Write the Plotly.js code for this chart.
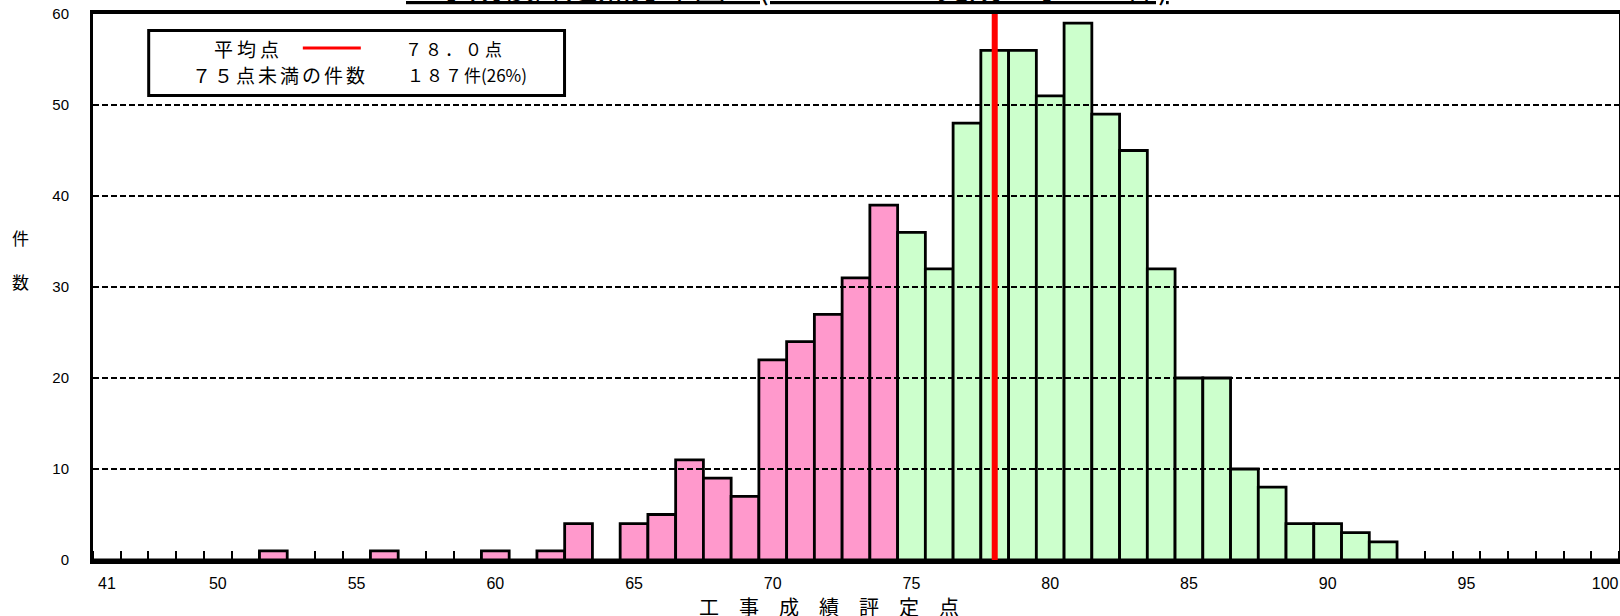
<!DOCTYPE html>
<html>
<head>
<meta charset="utf-8">
<script src="https://cdn.plot.ly/plotly-3.0.1.min.js"></script>
<style>html,body{margin:0;padding:0;background:#fff;}#chart{width:1620px;height:616px;}</style>
</head>
<body>
<div id="chart"></div>
<script>
// ---- data ----
const categories = ["41","47","48","49","50","51","52","53","54","55","56","57","58","59","60",
  "61","62","63","64","65","66","67","68","69","70","71","72","73","74","75","76","77","78","79","80",
  "81","82","83","84","85","86","87","88","89","90","91","92","93","94","95","96","97","98","99","100"];
const counts = [0,0,0,0,0,0,1,0,0,0,1,0,0,0,1,
  0,1,4,0,4,5,11,9,7,22,24,27,31,39,36,32,48,56,56,51,
  59,49,45,32,20,20,10,8,4,4,3,2,0,0,0,0,0,0,0,0];
const tickLabels = ["41","50","55","60","65","70","75","80","85","90","95","100"];
const yTicks = [0,10,20,30,40,50,60];
const meanScore = 78.0;
const threshold = 75;
const titleText = "工事成績評定点分布図　(R5.4～R6.3 完成工事 722件)";
const xTitle = "工　事　成　績　評　定　点";
const yTitle = "件<br><br>数";
const legendMeanLabel = "平均点";
const legendMeanValue = "７８．０点";
const legendBelowLabel = "７５点未満の件数";
const legendBelowNum = "１８７";
const legendBelowUnit = "件(26%)";

const PINK = "#FF99CC", GREEN = "#CCFFCC";
const JP = "'Noto Sans CJK JP', sans-serif";
const AR = "'Liberation Sans', Arial, sans-serif";

const colors = categories.map(c => Number(c) < threshold ? PINK : GREEN);
const idx = categories.map((c, i) => i);
const meanIdx = categories.indexOf(String(Math.round(meanScore))) + (meanScore - Math.round(meanScore));

const trace = {
  type: "bar",
  x: idx,
  y: counts,
  marker: {color: colors, line: {color: "#000", width: 2.8}},
  hoverinfo: "x+y",
  showlegend: false
};

const shapes = [];
// dashed grid lines drawn above bars
yTicks.filter(v => v > 0 && v < 60).forEach(v => {
  shapes.push({type: "line", xref: "paper", yref: "y", x0: 0, x1: 1, y0: v, y1: v,
    line: {color: "#000", width: 2, dash: "6px,3px"}, layer: "above"});
});
// mean line
shapes.push({type: "line", xref: "x", yref: "paper", x0: meanIdx, x1: meanIdx, y0: 0, y1: 1,
  line: {color: "#FF0000", width: 6}, layer: "above"});
// legend box
shapes.push({type: "rect", xref: "paper", yref: "paper", x0: 0.0365, x1: 0.309, y0: 0.8506, y1: 0.9698,
  line: {color: "#000", width: 3}, fillcolor: "#fff", layer: "above"});
shapes.push({type: "line", xref: "paper", yref: "paper", x0: 0.1375, x1: 0.1755, y0: 0.9377, y1: 0.9377,
  line: {color: "#FF0000", width: 3}, layer: "above"});

const annotations = [
  {xref: "paper", yref: "paper", x: 0.1022, y: 0.9377, xanchor: "center", yanchor: "middle",
   text: `<span style="letter-spacing:4px">${legendMeanLabel}</span>`, showarrow: false, font: {family: JP, size: 19, color: "#000"}},
  {xref: "paper", yref: "paper", x: 0.203, y: 0.9377, xanchor: "left", yanchor: "middle",
   text: `<span style="letter-spacing:3px">${legendMeanValue}</span>`, showarrow: false, font: {family: JP, size: 17, color: "#000"}},
  {xref: "paper", yref: "paper", x: 0.1228, y: 0.890, xanchor: "center", yanchor: "middle",
   text: `<span style="letter-spacing:3px">${legendBelowLabel}</span>`, showarrow: false, font: {family: JP, size: 19, color: "#000"}},
  {xref: "paper", yref: "paper", x: 0.2043, y: 0.890, xanchor: "left", yanchor: "middle",
   text: `<span style="letter-spacing:2px">${legendBelowNum}</span>${legendBelowUnit}`, showarrow: false, font: {family: JP, size: 17, color: "#000"}},
  {xref: "paper", yref: "paper", x: 0.4826, y: -0.0843, xanchor: "center", yanchor: "middle",
   text: xTitle, showarrow: false, font: {family: JP, size: 20, color: "#000"}},
  {xref: "paper", yref: "paper", x: -0.0472, y: 0.55, xanchor: "center", yanchor: "middle",
   text: yTitle, showarrow: false, font: {family: JP, size: 17, color: "#000"}},
  {xref: "paper", yref: "paper", x: 0.455, y: 1.0, xanchor: "center", yanchor: "bottom", yshift: 4,
   text: `<span style="text-decoration:underline">${titleText}</span>`, showarrow: false,
   font: {family: JP, size: 32, color: "#000"}}
];

const layout = {
  width: 1620, height: 616,
  margin: {l: 93, r: 1, t: 14, b: 56, pad: 0},
  paper_bgcolor: "#fff", plot_bgcolor: "#fff",
  bargap: 0,
  xaxis: {
    type: "linear",
    range: [-0.5, categories.length - 0.5],
    tickmode: "array",
    tickvals: idx.filter(i => tickLabels.includes(categories[i])),
    ticktext: categories.filter(c => tickLabels.includes(c)),
    ticks: "",
    minor: {ticks: "inside", tickmode: "linear", tick0: 0.5, dtick: 1, ticklen: 9, tickwidth: 2, tickcolor: "#000", showgrid: false},
    showgrid: false, zeroline: false,
    showline: true, linecolor: "#000", linewidth: 4, mirror: true,
    layer: "below traces",
    tickfont: {family: AR, size: 16, color: "#000"},
    ticklabelstandoff: 6,
    fixedrange: true
  },
  yaxis: {
    range: [0, 60],
    tickmode: "array", tickvals: yTicks,
    ticks: "", showgrid: false, zeroline: false,
    showline: true, linecolor: "#000", linewidth: 3, mirror: true,
    tickfont: {family: AR, size: 15, color: "#000"},
    ticklabelstandoff: 18,
    fixedrange: true
  },
  shapes: shapes,
  annotations: annotations,
  showlegend: false
};

Plotly.newPlot("chart", [trace], layout, {displayModeBar: false, staticPlot: true});
</script>
</body>
</html>
